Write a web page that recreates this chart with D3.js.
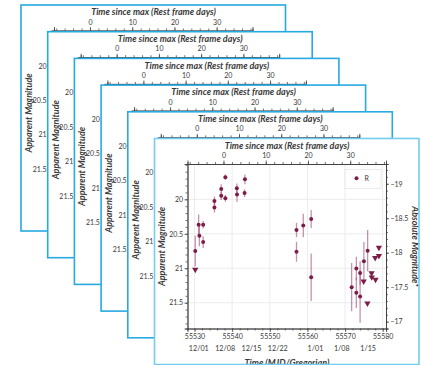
<!DOCTYPE html>
<html>
<head>
<meta charset="utf-8">
<script src="https://cdn.jsdelivr.net/npm/d3@7"></script>
<style>
  body { margin: 0; background: #fff; }
  svg { display: block; }
</style>
</head>
<body>
<svg id="chart" width="423" height="365"></svg>
<script>
// R-band detections (MJD, apparent mag, 1-sigma error)
const detMjd = [55530.2, 55531.1, 55531.3, 55532.3, 55532.3, 55535.3, 55535.3, 55537.1, 55537.1,
  55538.2, 55538.2, 55541.25, 55541.3, 55543.4, 55543.3,
  55557.1, 55557.1, 55558.9, 55561.0, 55561.0,
  55571.75, 55573.0, 55573.0, 55574.0, 55574.0, 55575.0, 55576.0];
const detMag = [20.75, 20.37, 20.53, 20.37, 20.62, 20.025, 20.12, 19.85, 19.95,
  19.68, 19.985, 19.84, 19.93, 19.71, 19.91,
  20.445, 20.76, 20.38, 20.285, 21.13,
  21.275, 21.005, 21.355, 21.07, 21.41, 20.90, 20.745];
const detErr = [0.22, 0.15, 0.15, 0.055, 0.085, 0.065, 0.07, 0.07, 0.06,
  0.04, 0.05, 0.07, 0.11, 0.07, 0.055,
  0.105, 0.145, 0.17, 0.13, 0.345,
  0.35, 0.17, 0.22, 0.17, 0.38, 0.28, 0.3];

// R-band upper limits
const limMjd = [55530.2, 55574.95, 55575.95, 55577.05, 55577.1, 55578.1, 55578.0, 55579.0, 55579.0];
const limMag = [21.02, 21.19, 21.51, 21.07, 21.13, 21.165, 20.85, 20.82, 20.70];

const legendLabels = ['R'];
const mjdTicks = [55530, 55540, 55550, 55560, 55570, 55580];
const dateTicks = ['2010-12-01', '2010-12-08', '2010-12-15', '2010-12-22', '2011-01-01', '2011-01-08', '2011-01-15'];
const restTicks = [0, 10, 20, 30];
const magTicks = [20, 20.5, 21, 21.5];
const absTicks = [-19, -18.5, -18, -17.5, -17];

const mjdRange = [55528.14, 55580.88];
const magRange = [19.488, 21.874];
const tMax = 55537.7;
const redshift = 0.122;
const distMod = 38.775;

const font = 'Lato, "Open Sans", sans-serif';
const ink = '#3a3a3a';
const markColor = '#7c1d49';
const barColor = '#a34a74';

const cardW = 264.5, cardH = 226, step = 26.7, nCards = 6;
const margin = { top: 25.5, right: 33, bottom: 36, left: 33 };
const w = cardW - margin.left - margin.right;
const h = cardH - margin.top - margin.bottom;

const mjdToDate = (m) => new Date((m - 40587) * 86400000);

const x = d3.scaleLinear().domain(mjdRange).range([0, w]);
const xRest = d3.scaleLinear()
  .domain(mjdRange.map(m => (m - tMax) / (1 + redshift)))
  .range([0, w]);
const xDate = d3.scaleUtc().domain(mjdRange.map(mjdToDate)).range([0, w]);
const y = d3.scaleLinear().domain(magRange).range([0, h]);
const yAbs = d3.scaleLinear().domain(magRange.map(m => m - distMod)).range([0, h]);

const svg = d3.select('#chart');

function styleAxis(sel, size) {
  sel.select('.domain').attr('stroke', ink).attr('stroke-width', 0.8);
  sel.selectAll('.tick line').attr('stroke', ink).attr('stroke-width', 0.7);
  sel.selectAll('text')
    .attr('fill', ink)
    .style('font-family', font)
    .style('font-size', size + 'px');
}

const title = (sel) => sel.attr('fill', ink)
  .style('font-family', font).style('font-size', '9px')
  .style('font-style', 'italic').style('font-weight', 700)
  .attr('text-anchor', 'middle');

function drawCard(i) {
  // cards behind the front one only show their top and left strips,
  // so only those parts are drawn for them
  const front = i === nCards - 1;
  const cx = 21 + i * step;
  const cy = 5 + i * step;
  const card = svg.append('g').attr('transform', `translate(${cx},${cy})`);

  card.append('clipPath').attr('id', 'clip' + i)
    .append('rect').attr('width', cardW).attr('height', cardH);

  const body = card.append('g').attr('clip-path', `url(#clip${i})`);
  body.append('rect').attr('width', cardW).attr('height', cardH).attr('fill', '#fff');

  const g = body.append('g').attr('transform', `translate(${margin.left},${margin.top})`);

  if (front) {
    // grid
    g.append('g').selectAll('line').data(mjdTicks).join('line')
      .attr('x1', d => x(d)).attr('x2', d => x(d))
      .attr('y1', 0).attr('y2', h)
      .attr('stroke', '#ececec').attr('stroke-width', 1);
    g.append('g').selectAll('line').data(magTicks).join('line')
      .attr('x1', 0).attr('x2', w)
      .attr('y1', d => y(d)).attr('y2', d => y(d))
      .attr('stroke', '#ececec').attr('stroke-width', 1);

    g.append('g').attr('transform', `translate(0,${h})`)
      .call(d3.axisBottom(x).tickValues(d3.range(55528, 55581, 2)).tickSize(2).tickFormat(''))
      .call(s => styleAxis(s, 7));
    g.append('g').attr('transform', `translate(0,${h})`)
      .call(d3.axisBottom(x).tickValues(mjdTicks).tickSize(3.5).tickPadding(2.5).tickFormat(d3.format('d')))
      .call(s => styleAxis(s, 7));

    g.append('g').attr('transform', `translate(0,${h + 17})`)
      .call(d3.axisBottom(xDate).tickValues(dateTicks.map(d => new Date(d + 'T00:00:00Z')))
        .tickSize(0).tickPadding(0).tickFormat(d3.utcFormat('%-m/%d')))
      .call(s => styleAxis(s, 7.2))
      .call(s => s.select('.domain').remove());

    g.append('g').attr('transform', `translate(${w},0)`)
      .call(d3.axisRight(yAbs).tickValues(d3.range(-19.2, -16.85, 0.1)).tickSize(2).tickFormat(''))
      .call(s => styleAxis(s, 7));
    g.append('g').attr('transform', `translate(${w},0)`)
      .call(d3.axisRight(yAbs).tickValues(absTicks).tickSize(3).tickPadding(1.5).tickFormat(d3.format('')))
      .call(s => styleAxis(s, 7));
  }

  g.append('g')
    .call(d3.axisTop(xRest).tickValues(d3.range(-8, 39, 2)).tickSize(2).tickFormat(''))
    .call(s => styleAxis(s, 7));
  g.append('g')
    .call(d3.axisTop(xRest).tickValues(restTicks).tickSize(3.5).tickPadding(2.5))
    .call(s => styleAxis(s, 7));

  g.append('g')
    .call(d3.axisLeft(y).tickValues(d3.range(19.5, 21.85, 0.1)).tickSize(2).tickFormat(''))
    .call(s => styleAxis(s, 7));
  g.append('g')
    .call(d3.axisLeft(y).tickValues(magTicks).tickSize(3).tickPadding(front ? 1.5 : 4.5).tickFormat(d3.format('')))
    .call(s => styleAxis(s, 7));

  body.append('text').attr('x', 132.5).attr('y', 10.3)
    .text('Time since max (Rest frame days)').call(title);
  body.append('text').attr('transform', 'translate(7.8,108) rotate(-90)').attr('dy', '0.35em')
    .text('Apparent Magnitude').call(title);

  if (front) {
    body.append('text').attr('transform', 'translate(260.3,108) rotate(90)').attr('dy', '0.35em')
      .text('Absolute Magnitude*').call(title);
    body.append('text').attr('x', 132.5).attr('y', 227.5)
      .text('Time (MJD/Gregorian)').call(title);

    const det = detMjd.map((m, k) => ({ mjd: m, mag: detMag[k], err: detErr[k] }));
    const lim = limMjd.map((m, k) => ({ mjd: m, mag: limMag[k] }));

    g.append('g').selectAll('line').data(det).join('line')
      .attr('x1', d => x(d.mjd)).attr('x2', d => x(d.mjd))
      .attr('y1', d => y(d.mag - d.err)).attr('y2', d => y(d.mag + d.err))
      .attr('stroke', barColor).attr('stroke-opacity', 0.6).attr('stroke-width', 1.3);

    g.append('g').selectAll('circle').data(det).join('circle')
      .attr('cx', d => x(d.mjd)).attr('cy', d => y(d.mag))
      .attr('r', 2).attr('fill', markColor);

    const tri = d3.symbol().type(d3.symbolTriangle).size(17);
    g.append('g').selectAll('path').data(lim).join('path')
      .attr('d', tri)
      .attr('transform', d => `translate(${x(d.mjd)},${y(d.mag)}) rotate(180)`)
      .attr('fill', markColor);

    const leg = g.append('g').attr('transform', `translate(${w - 41},5.3)`);
    leg.append('rect').attr('width', 36).attr('height', 19)
      .attr('fill', '#fff').attr('stroke', '#e4e4e4').attr('stroke-width', 0.8);
    leg.selectAll('circle').data(legendLabels).join('circle')
      .attr('cx', 11.5).attr('cy', 9).attr('r', 2).attr('fill', markColor);
    leg.selectAll('text').data(legendLabels).join('text')
      .attr('x', 19.5).attr('y', 9).attr('dy', '0.35em')
      .attr('fill', ink).style('font-family', font).style('font-size', '7px')
      .text(d => d);
  }

  card.append('rect').attr('width', cardW).attr('height', cardH)
    .attr('fill', 'none')
    .attr('stroke', front ? '#72cdf1' : '#27a9e1')
    .attr('stroke-width', 1.6);
}

d3.range(nCards).forEach(drawCard);
</script>
</body>
</html>
